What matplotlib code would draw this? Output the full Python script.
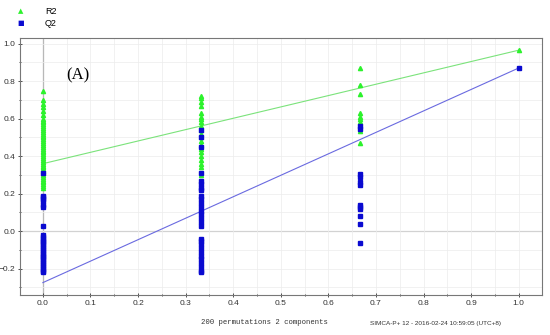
import matplotlib
matplotlib.use('Agg')
import matplotlib.pyplot as plt
from matplotlib.ticker import MultipleLocator

# permutation test values (x = correlation of permuted y with original y)
r2_at_0 = [0.75, 0.70, 0.68, 0.66, 0.64, 0.62, 0.60, 0.59, 0.58, 0.57, 0.56, 0.55,
           0.54, 0.53, 0.52, 0.51, 0.50, 0.49, 0.48, 0.47, 0.46, 0.45, 0.44, 0.43,
           0.42, 0.41, 0.40, 0.39, 0.38, 0.37, 0.36, 0.35, 0.34, 0.33, 0.32, 0.31,
           0.30, 0.29, 0.28, 0.27, 0.26, 0.25, 0.24, 0.23]
q2_at_0 = [0.31, 0.19, 0.18, 0.17, 0.16, 0.14, 0.13, 0.03, -0.02, -0.03, -0.04,
           -0.05, -0.06, -0.07, -0.08, -0.09, -0.10, -0.11, -0.12, -0.13, -0.14,
           -0.15, -0.16, -0.17, -0.18, -0.19, -0.20, -0.21, -0.22]
r2_at_033 = [0.72, 0.71, 0.69, 0.67, 0.63, 0.61, 0.60, 0.58, 0.56, 0.54, 0.52,
             0.50, 0.48, 0.46, 0.44, 0.42, 0.40, 0.38, 0.36, 0.34, 0.30]
q2_at_033 = [0.54, 0.50, 0.45, 0.31, 0.27, 0.25, 0.23, 0.22, 0.19, 0.17,
             0.15, 0.13, 0.11, 0.09, 0.07, 0.05, 0.03, -0.04, -0.05, -0.07, -0.09,
             -0.11, -0.13, -0.15, -0.17, -0.19, -0.21, -0.22]
r2_at_067 = [0.87, 0.78, 0.73, 0.63, 0.61, 0.60, 0.58, 0.535, 0.47]
q2_at_067 = [0.56, 0.545, 0.305, 0.29, 0.26, 0.245, 0.14, 0.13, 0.12, 0.083, 0.037, -0.064]
r2_original = 0.965
q2_original = 0.87

# regression line intercepts
r2_intercept = 0.36
q2_intercept = -0.274

perm_x = [0.0, 1/3, 2/3]

fig = plt.figure(figsize=(5.5, 3.35), dpi=100)
ax = fig.add_axes([0.0364, 0.1194, 0.9491, 0.7672])

green = '#2cf22c'
blue = '#0a0ad0'

r2_x, r2_y, q2_x, q2_y = [], [], [], []
for x, r2s, q2s in zip(perm_x, [r2_at_0, r2_at_033, r2_at_067], [q2_at_0, q2_at_033, q2_at_067]):
    r2_x += [x] * len(r2s)
    r2_y += r2s
    q2_x += [x] * len(q2s)
    q2_y += q2s
r2_x.append(1.0)
r2_y.append(r2_original)
q2_x.append(1.0)
q2_y.append(q2_original)

ax.axvline(0, color='#444444', lw=0.8, zorder=1)
ax.axhline(0, color='#999999', lw=0.8, zorder=1)

ax.plot([0, 1], [r2_intercept, r2_original], color='#7be37b', lw=0.8, zorder=2)
ax.plot([0, 1], [q2_intercept, q2_original], color='#6a6ae0', lw=0.8, zorder=2)

ax.plot(r2_x, r2_y, '^', color=green, ms=3, mec=green, ls='none', zorder=3)
ax.plot(q2_x, q2_y, 's', color=blue, ms=2.6, mec=blue, ls='none', zorder=4)

ax.set_xlim(-0.048, 1.049)
ax.set_ylim(-0.34, 1.03)
ax.xaxis.set_major_locator(MultipleLocator(0.1))
ax.xaxis.set_minor_locator(MultipleLocator(0.05))
ax.yaxis.set_major_locator(MultipleLocator(0.2))
ax.yaxis.set_minor_locator(MultipleLocator(0.1))
ax.grid(True, which='both', color='#ececec', lw=0.5, zorder=0)
ax.tick_params(which='both', direction='inout', length=3, width=0.6, labelsize=6,
               colors='#333333', pad=2)
ax.tick_params(which='minor', length=2)
for lab in ax.get_xticklabels() + ax.get_yticklabels():
    lab.set_family('Liberation Sans')
for s in ax.spines.values():
    s.set_color('#777777')
    s.set_linewidth(0.8)

ax.text(0.05, 0.81, '(A)', transform=ax.transData, fontsize=12, family='Liberation Serif')

# legend outside top-left
fig.text(21 / 550, 1 - 11 / 335, '\u25b2', color=green, fontsize=5, ha='center', va='center')
fig.text(21 / 550, 1 - 23 / 335, '\u25a0', color=blue, fontsize=5, ha='center', va='center')
fig.text(45 / 550, 1 - 11 / 335, 'R2', fontsize=6.5, ha='left', va='center', family='Liberation Sans')
fig.text(45 / 550, 1 - 23 / 335, 'Q2', fontsize=6.5, ha='left', va='center', family='Liberation Sans')

fig.text(264 / 550, 1 - 323 / 335, '200 permutations 2 components', fontsize=5.2,
         family='Liberation Mono', ha='center', va='center', color='#333333')
fig.text(436 / 550, 1 - 323 / 335, 'SIMCA-P+ 12 - 2016-02-24 10:59:05 (UTC+8)', fontsize=4.6,
         family='Liberation Sans', ha='center', va='center', color='#333333')

plt.savefig('out.png', dpi=100)
